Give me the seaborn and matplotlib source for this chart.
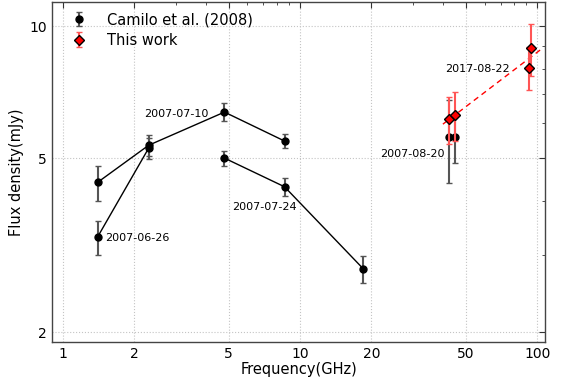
import numpy as np
import matplotlib
matplotlib.use("Agg")
import matplotlib.pyplot as plt
import matplotlib.ticker as mticker
import seaborn as sns
import pandas as pd

# Camilo et al. (2008) data, grouped by epoch
cam_epoch = ["2007-06-26", "2007-06-26",
             "2007-07-10", "2007-07-10", "2007-07-10", "2007-07-10",
             "2007-07-24", "2007-07-24", "2007-07-24",
             "2007-08-20", "2007-08-20"]
cam_freq = [1.4, 2.3, 1.4, 2.3, 4.8, 8.6, 4.8, 8.6, 18.5, 42.5, 45.0]
cam_flux = [3.3, 5.27, 4.4, 5.35, 6.37, 5.47, 5.0, 4.3, 2.79, 5.58, 5.58]
cam_err = [0.3, 0.3, 0.4, 0.3, 0.3, 0.2, 0.2, 0.2, 0.2, 1.2, 0.7]

# This work
tw_freq = [42.5, 45.0, 93.8, 92.5]
tw_flux = [6.14, 6.27, 8.92, 8.05]
tw_err = [0.75, 0.8, 1.2, 0.9]

# Annotations: (text, x, y)
ann_text = ["2007-06-26", "2007-07-10", "2007-07-24", "2007-08-20", "2017-08-22"]
ann_x = [1.5, 4.1, 5.15, 40.5, 40.8]
ann_y = [3.28, 6.3, 3.87, 5.1, 8.0]
ann_ha = ["left", "right", "left", "right", "left"]

sns.set_style("white")
plt.rcParams["font.family"] = ["DejaVu Sans"]
plt.rcParams["text.color"] = "black"
plt.rcParams["axes.labelcolor"] = "black"

fig = plt.figure(figsize=(5.63, 3.83), dpi=100)
ax = fig.add_axes([0.0924, 0.107, 0.876, 0.887])

cam_df = pd.DataFrame({"epoch": cam_epoch, "freq": cam_freq, "flux": cam_flux})
line_df = cam_df[cam_df["epoch"] != "2007-08-20"]
sns.lineplot(data=line_df, x="freq", y="flux", units="epoch", estimator=None,
             color="black", lw=1.0, sort=False, ax=ax, legend=False)

h1 = ax.errorbar(cam_freq, cam_flux, yerr=cam_err, fmt="o", color="black",
                 ms=5, ecolor="#555555", elinewidth=1.5, capsize=2.5,
                 capthick=1.0, zorder=3, label="Camilo et al. (2008)")

# power-law fit to this work
coef = np.polyfit(np.log10(tw_freq), np.log10(tw_flux), 1)
fx = np.logspace(np.log10(40), np.log10(105), 50)
fy = 10 ** np.polyval(coef, np.log10(fx))
sns.lineplot(x=fx, y=fy, color="red", lw=1.0, ax=ax, legend=False)
ax.lines[-1].set_linestyle((0, (4, 3)))

h2 = ax.errorbar(tw_freq, tw_flux, yerr=tw_err, fmt="D", mfc="red", mec="black",
                 mew=1.0, ms=5.5, ecolor="#ff5555", elinewidth=1.5, capsize=2.5,
                 capthick=1.0, zorder=4, label="This work")

for t, x, y, ha in zip(ann_text, ann_x, ann_y, ann_ha):
    ax.text(x, y, t, ha=ha, va="center", fontsize=8, color="black")

ax.set_xscale("log")
ax.set_yscale("log")
ax.set_xlim(0.9, 108)
ax.set_ylim(1.9, 11.35)

ax.xaxis.set_major_locator(mticker.FixedLocator([1, 2, 5, 10, 20, 50, 100]))
ax.xaxis.set_major_formatter(mticker.FixedFormatter(["1", "2", "5", "10", "20", "50", "100"]))
xminor = [m * d for d in [1, 10, 100] for m in range(2, 10)]
ax.xaxis.set_minor_locator(mticker.FixedLocator(xminor))
ax.xaxis.set_minor_formatter(mticker.NullFormatter())
ax.yaxis.set_major_locator(mticker.FixedLocator([2, 5, 10]))
ax.yaxis.set_major_formatter(mticker.FixedFormatter(["2", "5", "10"]))
ax.yaxis.set_minor_locator(mticker.FixedLocator([3, 4, 6, 7, 8, 9]))
ax.yaxis.set_minor_formatter(mticker.NullFormatter())

ax.tick_params(which="both", direction="in", top=True, right=True, colors="#333333",
               labelcolor="black", labelsize=10)
ax.tick_params(which="major", length=4, width=0.8)
ax.tick_params(which="minor", length=2, width=0.6)
ax.grid(True, which="major", ls=":", color="#c4c4c4", lw=0.8)
for s in ax.spines.values():
    s.set_color("#444444")
    s.set_linewidth(1.0)

ax.set_xlabel("Frequency(GHz)", fontsize=10.5, labelpad=1)
ax.set_ylabel("Flux density(mJy)", fontsize=10.5, labelpad=4)

ax.legend(handles=[h1, h2], loc="upper left", frameon=False, fontsize=10.5,
          numpoints=1, handlelength=1.5, handletextpad=1.2,
          bbox_to_anchor=(0.005, 1.01), borderaxespad=0.5, labelspacing=0.4)

fig.savefig("out.png", dpi=100)
